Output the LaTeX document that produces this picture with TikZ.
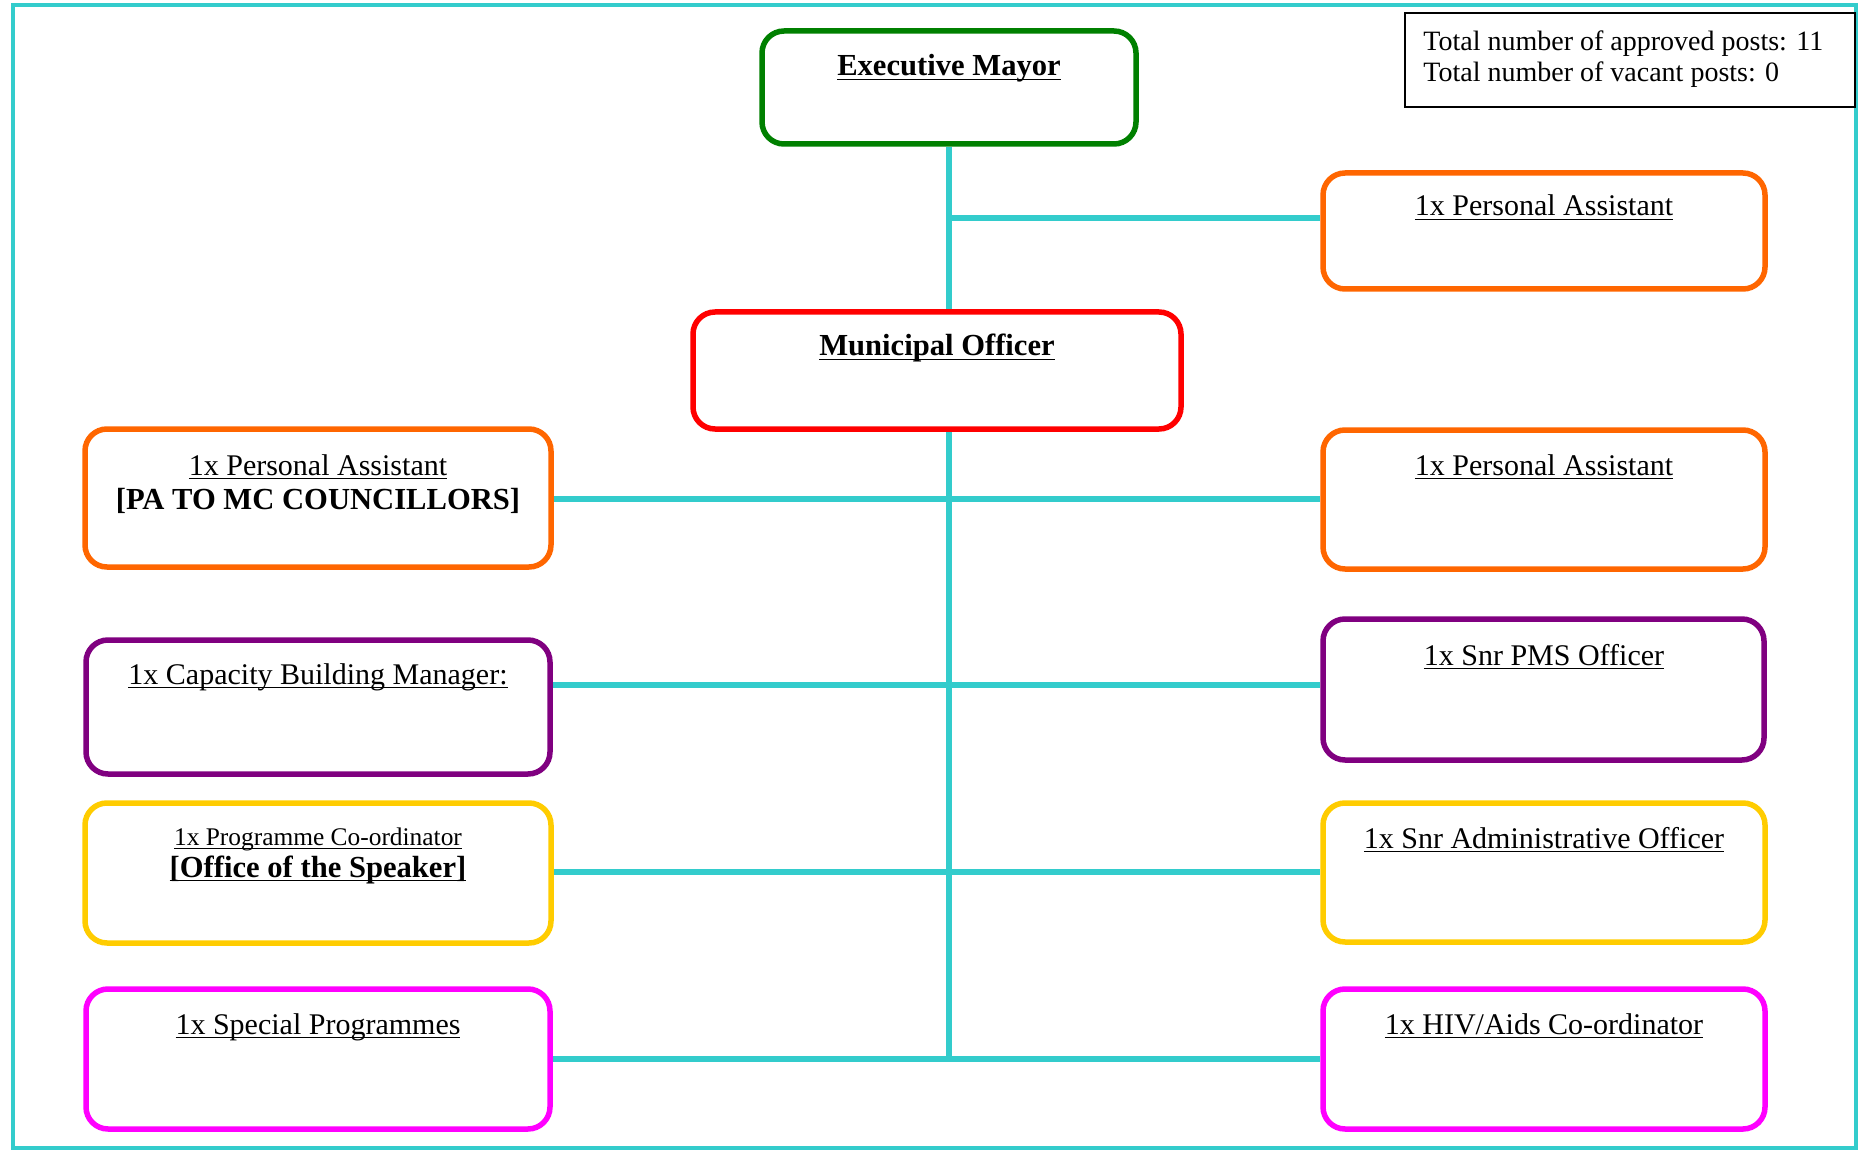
\documentclass[tikz,border=0pt]{standalone}
\usepackage{fontspec}
\setmainfont{Liberation Serif}
\usetikzlibrary{fit,backgrounds}
\definecolor{linkcyan}{HTML}{33CCCC}
\definecolor{mayorgreen}{HTML}{008000}
\definecolor{officerred}{HTML}{FF0000}
\definecolor{paorange}{HTML}{FF6600}
\definecolor{midpurple}{HTML}{800080}
\definecolor{progyellow}{HTML}{FFCC00}
\definecolor{specmagenta}{HTML}{FF00FF}
% underline at a fixed depth below the baseline
\newsavebox{\ulinebox}
\newcommand{\ulinetext}[1]{\sbox{\ulinebox}{#1}\rlap{\rule[-2pt]{\wd\ulinebox}{0.7pt}}\usebox{\ulinebox}}
\begin{document}
\begin{tikzpicture}[x=0.5pt,y=-0.5pt,
  post/.style={draw, line width=2.75pt, rounded corners=11pt, inner sep=0pt},
  link/.style={draw=linkcyan, line width=2.6pt},
  title/.style={anchor=base, inner sep=0pt, font=\fontsize{15}{18}\selectfont},
  boldtitle/.style={title, font=\fontsize{15.3}{18}\selectfont\bfseries},
  smalltitle/.style={title, font=\fontsize{12.7}{15}\selectfont},
  infotext/.style={anchor=base west, inner sep=0pt, font=\fontsize{14}{17}\selectfont},
]
\useasboundingbox (0,0) rectangle (1858,1150);

% outer frame
\draw[draw=linkcyan, line width=2pt] (13,5) rectangle (1856,1148);

% summary box
\node[draw=black, line width=0.8pt, inner sep=0pt, fit={(1405,13) (1855,107)}] (summary) {};
\node[infotext] (approved) at (1423,51) {Total number of approved posts: 11};
\node[infotext] (vacant) at (1423,82) {Total number of vacant posts: 0};

% post boxes
\node[post, draw=mayorgreen, fit={(762,31) (1136,144)}] (mayor) {};
\node[post, draw=officerred, fit={(693,312) (1181,429)}] (muni) {};
\node[post, draw=paorange, fit={(1323,173) (1765,289)}] (paR1) {};
\node[post, draw=paorange, fit={(85,429) (551,567)}] (paL) {};
\node[post, draw=paorange, fit={(1323,430) (1765,569)}] (paR2) {};
\node[post, draw=midpurple, fit={(86,640) (550,774)}] (cap) {};
\node[post, draw=midpurple, fit={(1323,619) (1764,760)}] (pms) {};
\node[post, draw=progyellow, fit={(85,803) (551,943)}] (prog) {};
\node[post, draw=progyellow, fit={(1323,803) (1765,942)}] (adm) {};
\node[post, draw=specmagenta, fit={(86,989) (550,1129)}] (spec) {};
\node[post, draw=specmagenta, fit={(1323,989) (1765,1129)}] (hiv) {};

% junction points on the trunk
\coordinate (jPA) at (949,218);
\coordinate (r1) at (949,499);
\coordinate (r2) at (949,685);
\coordinate (r3) at (949,872);
\coordinate (r4) at (949,1059);

% connectors
\begin{pgfonlayer}{background}
\draw[link] (mayor.south) -- (mayor.south |- muni.north);
\draw[link] (jPA) -- (jPA -| paR1.west);
\draw[link] (mayor.south |- muni.south) -- (r4);
\draw[link] (r1 -| paL.east) -- (r1 -| paR2.west);
\draw[link] (r2 -| cap.east) -- (r2 -| pms.west);
\draw[link] (r3 -| prog.east) -- (r3 -| adm.west);
\draw[link] (r4 -| spec.east) -- (r4 -| hiv.west);
\end{pgfonlayer}

% titles
\node[boldtitle] (mayorT) at (949,76) {\ulinetext{Executive Mayor}};
\node[boldtitle] (muniT) at (937,356) {\ulinetext{Municipal Officer}};
\node[title] (paR1T) at (1544,216) {\ulinetext{1x Personal Assistant}};
\node[title] (paLT) at (318,475) {\ulinetext{1x Personal Assistant}};
\node[boldtitle] (paLT2) at (318,509) {[PA TO MC COUNCILLORS]};
\node[title] (paR2T) at (1544,475) {\ulinetext{1x Personal Assistant}};
\node[title] (capT) at (318,684) {\ulinetext{1x Capacity Building Manager:}};
\node[title] (pmsT) at (1544,665) {\ulinetext{1x Snr PMS Officer}};
\node[smalltitle] (progT) at (318,845) {\ulinetext{1x Programme Co-ordinator}};
\node[boldtitle] (progT2) at (318,877) {\ulinetext{[Office of the Speaker]}};
\node[title] (admT) at (1544,848) {\ulinetext{1x Snr Administrative Officer}};
\node[title] (specT) at (318,1034) {\ulinetext{1x Special Programmes}};
\node[title] (hivT) at (1544,1034) {\ulinetext{1x HIV/Aids Co-ordinator}};
\end{tikzpicture}
\end{document}
